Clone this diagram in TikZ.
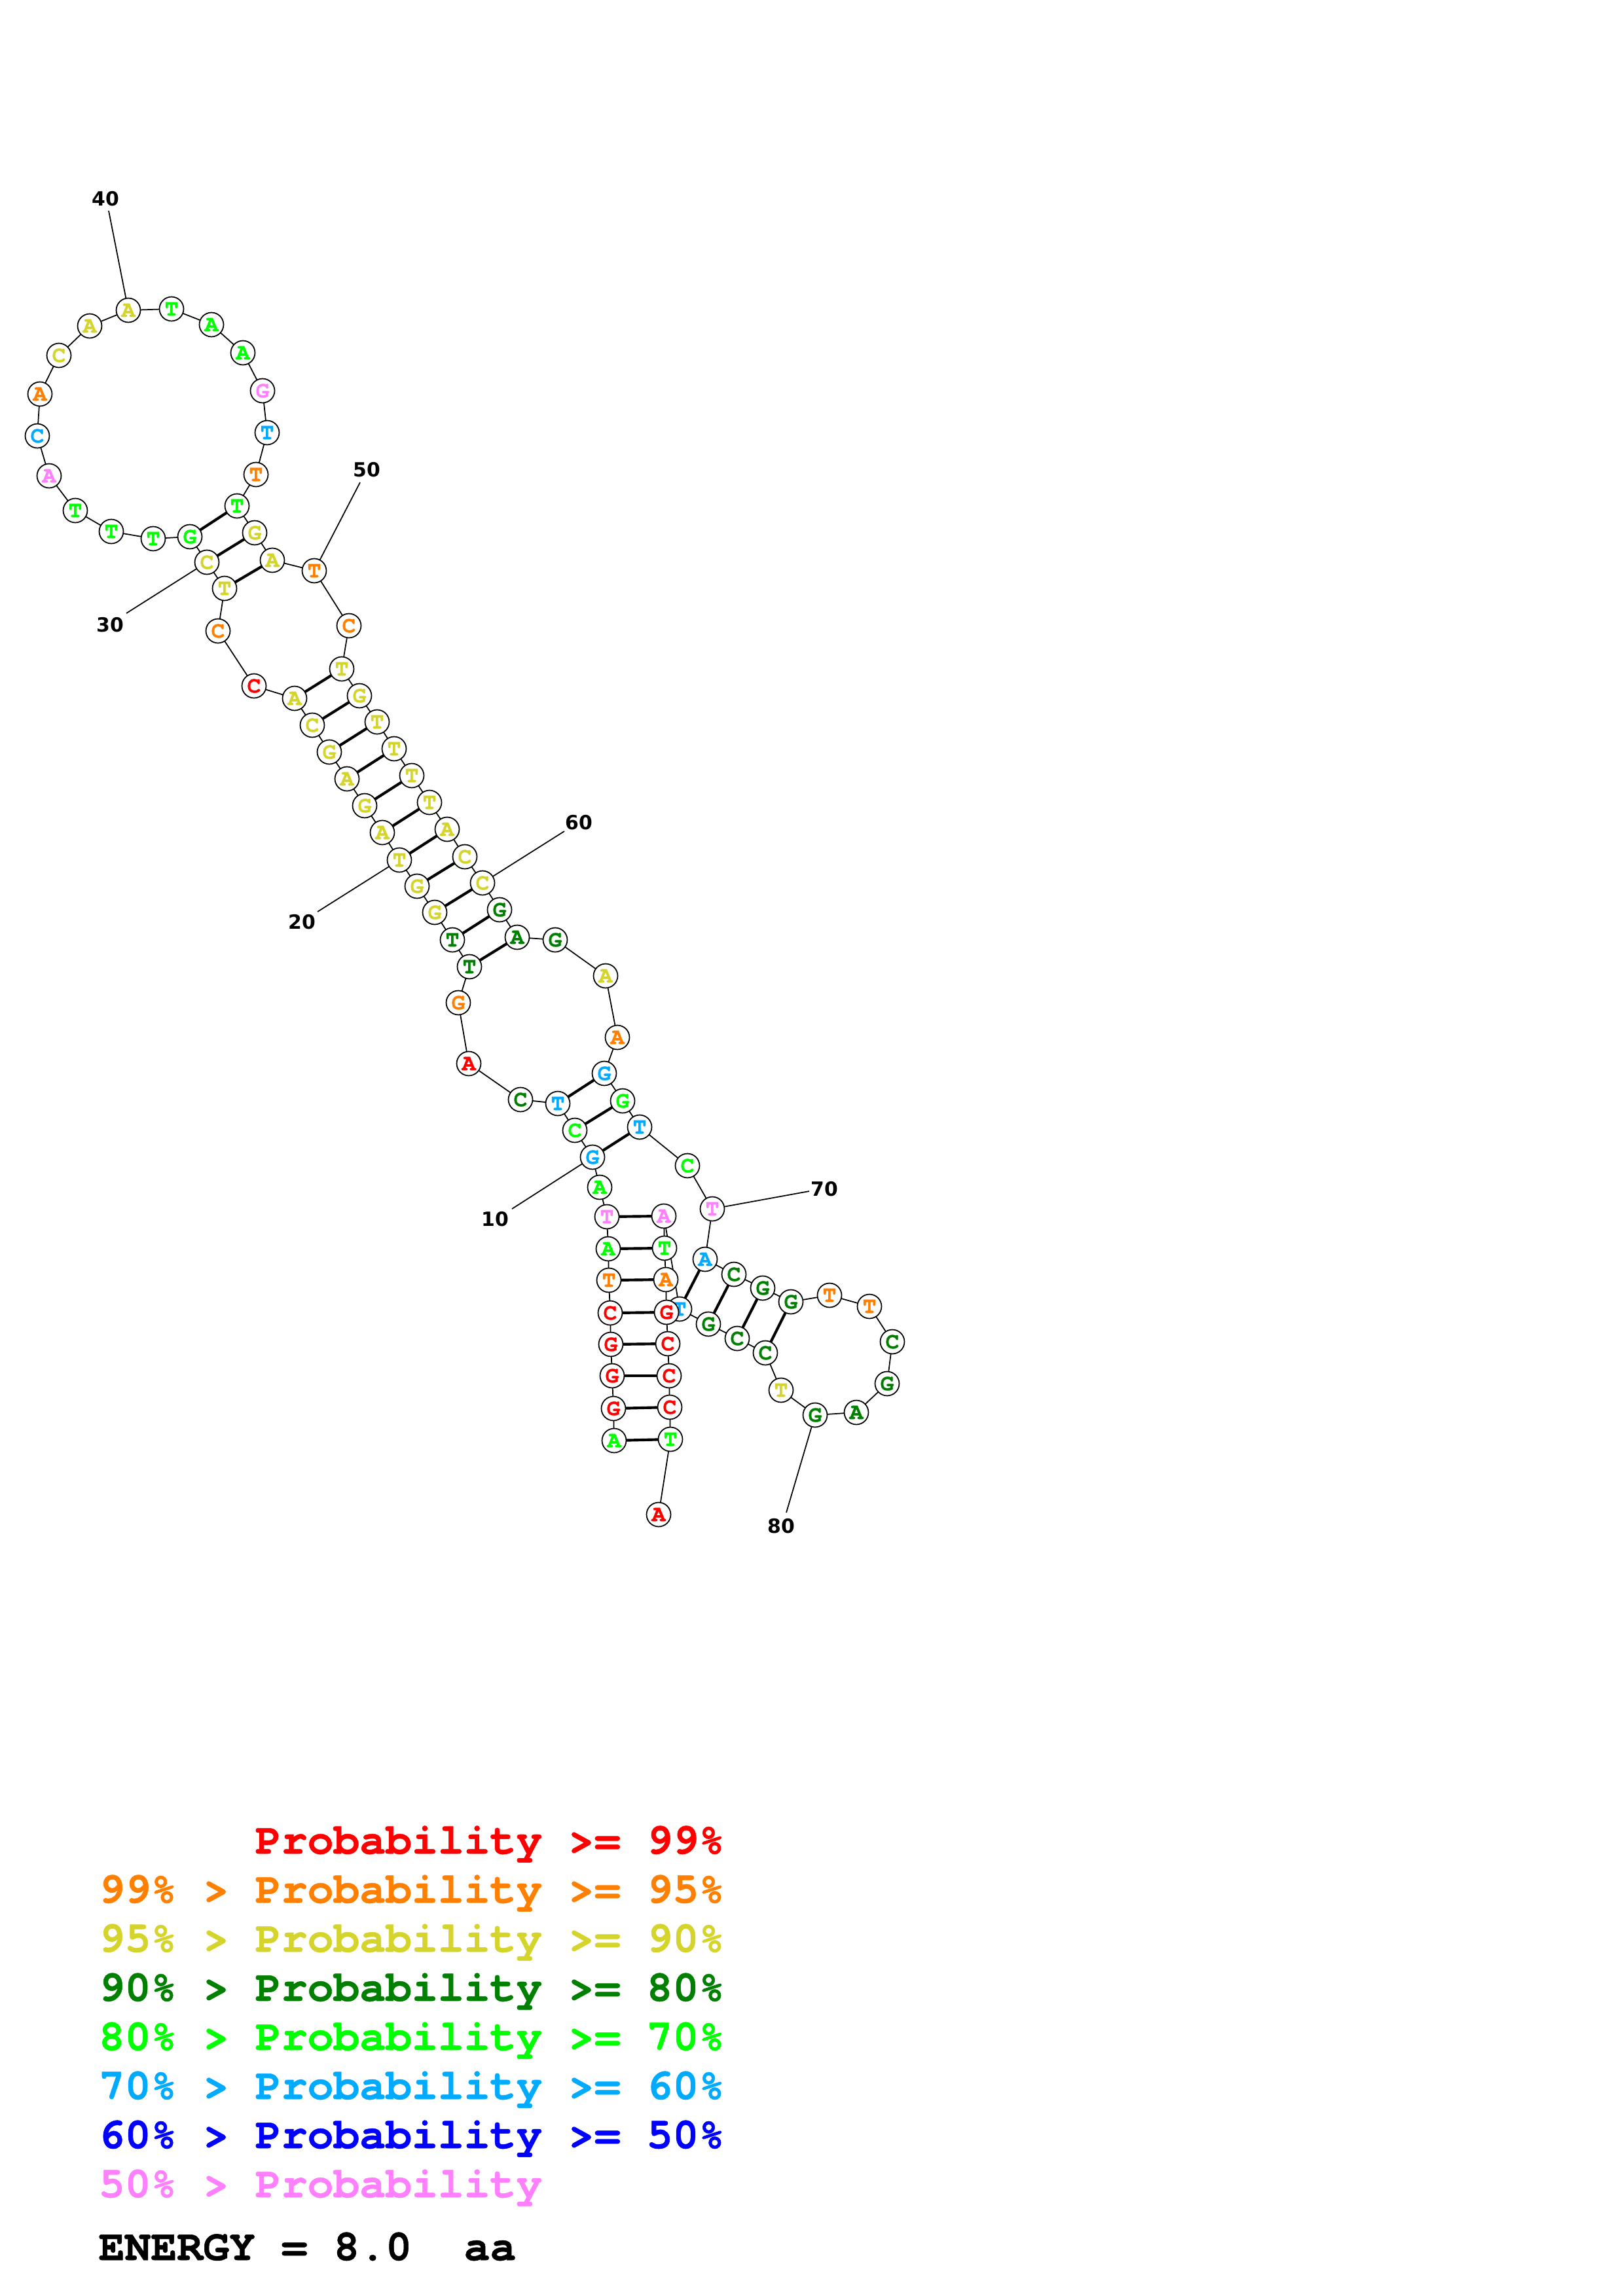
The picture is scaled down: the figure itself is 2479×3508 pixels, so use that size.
\documentclass[tikz,border=0pt]{standalone}
\usepackage{fontspec}
\newfontfamily\courfont{TeX Gyre Cursor}[BoldFeatures={FakeBold=0.8}]
\newfontfamily\numfont{DejaVu Sans}
\usetikzlibrary{backgrounds}
\definecolor{pa}{RGB}{255,0,0}
\definecolor{pb}{RGB}{255,128,0}
\definecolor{pc}{RGB}{212,212,44}
\definecolor{pd}{RGB}{0,128,0}
\definecolor{pe}{RGB}{0,255,0}
\definecolor{pf}{RGB}{0,170,255}
\definecolor{pg}{RGB}{0,0,255}
\definecolor{ph}{RGB}{255,128,255}
\begin{document}
\begin{tikzpicture}[x=0.2409pt,y=-0.2409pt,
  nuc/.style={circle,draw,line width=0.42pt,fill=white,minimum size=8.9pt,inner sep=0pt,text=#1,
    font=\courfont\bfseries\fontsize{8.4}{8.4}\selectfont},
  bone/.style={line width=0.42pt},
  pair/.style={line width=1pt},
  num/.style={inner sep=0pt,font=\numfont\bfseries\fontsize{7.2}{7.2}\selectfont},
  legend/.style={anchor=base west,inner sep=0pt,text=#1,
    font=\courfont\bfseries\fontsize{16}{16}\selectfont}]
\useasboundingbox (0,0) rectangle (2479,3508);
\node[nuc=pe] (n1) at (938,2201) {A};
\node[nuc=pa] (n2) at (937,2152) {G};
\node[nuc=pa] (n3) at (935,2102) {G};
\node[nuc=pa] (n4) at (933,2054) {G};
\node[nuc=pa] (n5) at (932,2006) {C};
\node[nuc=pb] (n6) at (930,1956) {T};
\node[nuc=pe] (n7) at (929,1908) {A};
\node[nuc=ph] (n8) at (927,1859) {T};
\node[nuc=pe] (n9) at (916,1814) {A};
\node[nuc=pf] (n10) at (905,1768) {G};
\node[nuc=pe] (n11) at (878,1727) {C};
\node[nuc=pf] (n12) at (852,1686) {T};
\node[nuc=pd] (n13) at (795,1680) {C};
\node[nuc=pa] (n14) at (716,1625) {A};
\node[nuc=pb] (n15) at (700,1532) {G};
\node[nuc=pd] (n16) at (717,1477) {T};
\node[nuc=pd] (n17) at (691,1436) {T};
\node[nuc=pc] (n18) at (664,1394) {G};
\node[nuc=pc] (n19) at (637,1354) {G};
\node[nuc=pc] (n20) at (610,1314) {T};
\node[nuc=pc] (n21) at (584,1272) {A};
\node[nuc=pc] (n22) at (557,1231) {G};
\node[nuc=pc] (n23) at (530,1190) {A};
\node[nuc=pc] (n24) at (503,1149) {G};
\node[nuc=pc] (n25) at (477,1108) {C};
\node[nuc=pc] (n26) at (450,1067) {A};
\node[nuc=pa] (n27) at (388,1048) {C};
\node[nuc=pb] (n28) at (333,964) {C};
\node[nuc=pc] (n29) at (343,899) {T};
\node[nuc=pc] (n30) at (316,859) {C};
\node[nuc=pe] (n31) at (290,820) {G};
\node[nuc=pe] (n32) at (234,823) {T};
\node[nuc=pe] (n33) at (170,812) {T};
\node[nuc=pe] (n34) at (115,780) {T};
\node[nuc=ph] (n35) at (75,727) {A};
\node[nuc=pf] (n36) at (57,666) {C};
\node[nuc=pb] (n37) at (61,602) {A};
\node[nuc=pc] (n38) at (90,543) {C};
\node[nuc=pc] (n39) at (137,498) {A};
\node[nuc=pc] (n40) at (196,474) {A};
\node[nuc=pe] (n41) at (262,472) {T};
\node[nuc=pe] (n42) at (323,496) {A};
\node[nuc=pe] (n43) at (371,539) {A};
\node[nuc=ph] (n44) at (401,597) {G};
\node[nuc=pf] (n45) at (408,661) {T};
\node[nuc=pb] (n46) at (391,725) {T};
\node[nuc=pe] (n47) at (362,773) {T};
\node[nuc=pc] (n48) at (389,814) {G};
\node[nuc=pc] (n49) at (416,856) {A};
\node[nuc=pb] (n50) at (480,872) {T};
\node[nuc=pb] (n51) at (533,956) {C};
\node[nuc=pc] (n52) at (522,1022) {T};
\node[nuc=pc] (n53) at (549,1063) {G};
\node[nuc=pc] (n54) at (576,1103) {T};
\node[nuc=pc] (n55) at (602,1144) {T};
\node[nuc=pc] (n56) at (629,1185) {T};
\node[nuc=pc] (n57) at (656,1226) {T};
\node[nuc=pc] (n58) at (683,1267) {A};
\node[nuc=pc] (n59) at (710,1309) {C};
\node[nuc=pc] (n60) at (737,1349) {C};
\node[nuc=pd] (n61) at (763,1390) {G};
\node[nuc=pd] (n62) at (790,1432) {A};
\node[nuc=pd] (n63) at (848,1436) {G};
\node[nuc=pc] (n64) at (925,1491) {A};
\node[nuc=pb] (n65) at (943,1585) {A};
\node[nuc=pf] (n66) at (923,1640) {G};
\node[nuc=pe] (n67) at (951,1682) {G};
\node[nuc=pf] (n68) at (977,1722) {T};
\node[nuc=pe] (n69) at (1050,1781) {C};
\node[nuc=ph] (n70) at (1088,1847) {T};
\node[nuc=pf] (n71) at (1077,1924) {A};
\node[nuc=pd] (n72) at (1121,1947) {C};
\node[nuc=pd] (n73) at (1165,1968) {G};
\node[nuc=pd] (n74) at (1208,1989) {G};
\node[nuc=pb] (n75) at (1267,1979) {T};
\node[nuc=pb] (n76) at (1328,1996) {T};
\node[nuc=pd] (n77) at (1363,2050) {C};
\node[nuc=pd] (n78) at (1355,2114) {G};
\node[nuc=pd] (n79) at (1308,2158) {A};
\node[nuc=pd] (n80) at (1245,2162) {G};
\node[nuc=pc] (n81) at (1193,2124) {T};
\node[nuc=pd] (n82) at (1169,2067) {C};
\node[nuc=pd] (n83) at (1126,2045) {C};
\node[nuc=pd] (n84) at (1082,2023) {G};
\node[nuc=pf] (n85) at (1038,2000) {T};
\node[nuc=ph] (n86) at (1014,1858) {A};
\node[nuc=pe] (n87) at (1015,1907) {T};
\node[nuc=pb] (n88) at (1017,1955) {A};
\node[nuc=pa] (n89) at (1018,2005) {G};
\node[nuc=pa] (n90) at (1020,2053) {C};
\node[nuc=pa] (n91) at (1022,2102) {C};
\node[nuc=pa] (n92) at (1023,2150) {C};
\node[nuc=pe] (n93) at (1024,2199) {T};
\node[nuc=pa] (n94) at (1006,2314) {A};
\node[num] (l10) at (756,1863) {10};
\node[num] (l20) at (461,1409) {20};
\node[num] (l30) at (168,955) {30};
\node[num] (l40) at (161,304) {40};
\node[num] (l50) at (560,718) {50};
\node[num] (l60) at (884,1257) {60};
\node[num] (l70) at (1259,1817) {70};
\node[num] (l80) at (1193,2332) {80};
\coordinate (e10) at (782,1847);
\coordinate (e20) at (485,1393);
\coordinate (e30) at (193,937);
\coordinate (e40) at (166,322);
\coordinate (e50) at (550,737);
\coordinate (e60) at (862,1270);
\coordinate (e70) at (1236,1820);
\coordinate (e80) at (1201,2311);
\begin{pgfonlayer}{background}
\foreach \i [count=\j from 2] in {1,...,93}
  \draw[bone] (n\i.center) -- (n\j.center);
\foreach \a/\b in {1/93,2/92,3/91,4/90,5/89,6/88,7/87,8/86,10/68,11/67,12/66,
    16/62,17/61,18/60,19/59,20/58,21/57,22/56,23/55,24/54,25/53,26/52,
    29/49,30/48,31/47,71/85,72/84,73/83,74/82}
  \draw[pair] (n\a.center) -- (n\b.center);
\foreach \k in {10,20,...,80}
  \draw[bone] (n\k.center) -- (e\k);
\end{pgfonlayer}
\node[legend=pa] (p1) at (150,2832) {~~~~~~Probability~>=~99\%};
\node[legend=pb] (p2) at (150,2907) {99\%~>~Probability~>=~95\%};
\node[legend=pc] (p3) at (150,2982) {95\%~>~Probability~>=~90\%};
\node[legend=pd] (p4) at (150,3057) {90\%~>~Probability~>=~80\%};
\node[legend=pe] (p5) at (150,3132) {80\%~>~Probability~>=~70\%};
\node[legend=pf] (p6) at (150,3207) {70\%~>~Probability~>=~60\%};
\node[legend=pg] (p7) at (150,3282) {60\%~>~Probability~>=~50\%};
\node[legend=ph] (p8) at (150,3357) {50\%~>~Probability};
\node[legend=black] (en) at (150,3453) {ENERGY~=~8.0~~aa};
\end{tikzpicture}
\end{document}
